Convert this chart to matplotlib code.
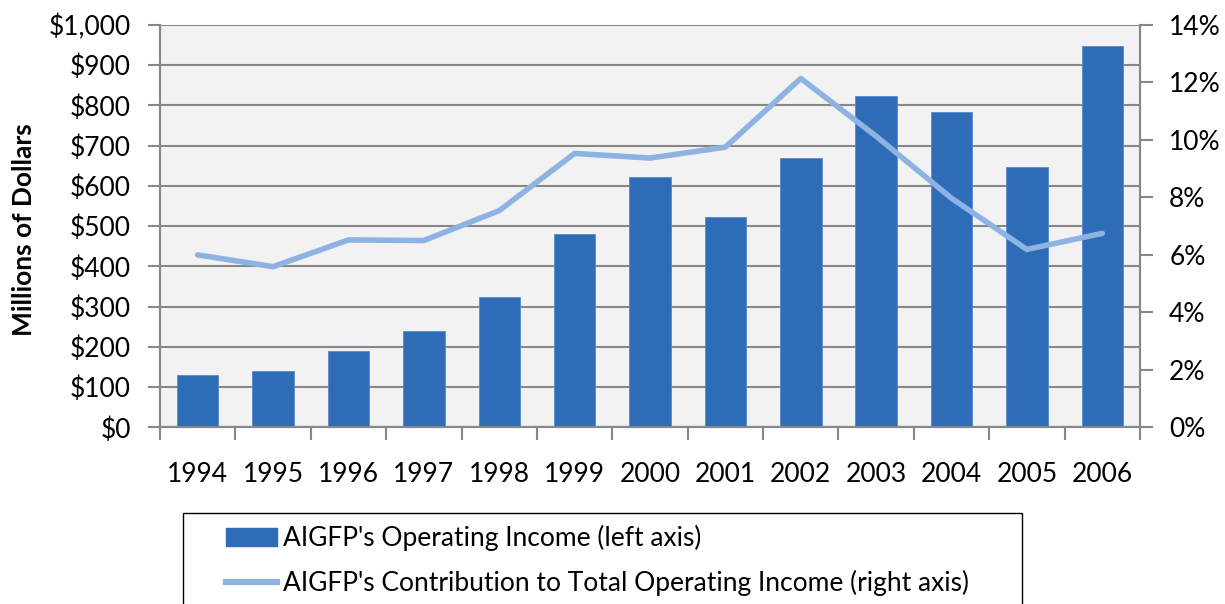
import matplotlib
matplotlib.use("Agg")
import matplotlib.pyplot as plt
from matplotlib.patches import Patch, Rectangle
from matplotlib.lines import Line2D
from matplotlib.ticker import FuncFormatter, MultipleLocator

years = ["1994", "1995", "1996", "1997", "1998", "1999", "2000",
         "2001", "2002", "2003", "2004", "2005", "2006"]
operating_income = [130, 140, 189, 240, 323, 481, 621, 522, 669, 824, 784, 647, 948]
contribution_pct = [6.0, 5.59, 6.52, 6.5, 7.54, 9.53, 9.37, 9.75, 12.14, 10.13, 7.97, 6.19, 6.75]
bar_label = "AIGFP's Operating Income (left axis)"
line_label = "AIGFP's Contribution to Total Operating Income (right axis)"

plt.rcParams['font.family'] = ['Lato', 'DejaVu Sans']

W, H = 1225, 604
FS = 19
fig = plt.figure(figsize=(W / 100, H / 100), dpi=100)
ax = fig.add_axes([160 / W, 1 - 427.3 / H, (1140 - 160) / W, (427.3 - 25) / H])
ax2 = ax.twinx()

grey = "#878787"
bar_color = "#2E6CB8"
line_color = "#8DB3E2"

x = list(range(len(years)))
ax.set_facecolor("#F2F2F2")
ax.bar(x, operating_income, width=0.55, color=bar_color, edgecolor="#5A8ACB", linewidth=0.6, zorder=3)
ax.set_xlim(-0.5, len(years) - 0.5)
ax.set_ylim(0, 1000)
ax.yaxis.set_major_locator(MultipleLocator(100))
ax.yaxis.set_major_formatter(FuncFormatter(lambda v, p: "${:,.0f}".format(v)))
ax.grid(axis="y", color=grey, linewidth=1.5, zorder=1)
ax.set_axisbelow(True)
ax.set_xticks(x)
ax.set_xticklabels(years)
ax.set_xticks([i - 0.5 for i in range(len(years) + 1)], minor=True)
ax.tick_params(axis="x", which="major", length=0, pad=25, labelsize=FS)
ax.tick_params(axis="x", which="minor", length=9, width=1.5, color=grey)
ax.tick_params(axis="y", length=9, width=1.5, color=grey, labelsize=FS, pad=12)
ax.set_ylabel("Millions of Dollars", fontsize=19, fontweight="bold")
ax.yaxis.set_label_coords(36 / W, 1 - 230 / H, transform=fig.transFigure)

ax2.plot(x, contribution_pct, color=line_color, linewidth=4.0, solid_capstyle="round", zorder=4)
ax2.set_ylim(0, 14)
ax2.yaxis.set_major_locator(MultipleLocator(2))
ax2.yaxis.set_major_formatter(FuncFormatter(lambda v, p: "{:.0f}%".format(v)))
ax2.tick_params(axis="y", length=9, width=1.5, color=grey, labelsize=FS, pad=12)

for a in (ax, ax2):
    a.spines["top"].set_visible(False)
    for s in ("left", "right", "bottom"):
        a.spines[s].set_color(grey)
        a.spines[s].set_linewidth(1.5)

# legend frame (extends past the bottom of the figure as in the reference)
fig.patches.append(Rectangle((183 / W, -0.05), (1022 - 183) / W, (1 - 513 / H) + 0.05,
                             transform=fig.transFigure, facecolor="white",
                             edgecolor="black", linewidth=1.0, zorder=0))
handles = [Patch(facecolor=bar_color, edgecolor=bar_color),
           Line2D([0], [0], color=line_color, linewidth=4.5)]
leg = fig.legend(handles, [bar_label, line_label], loc="upper left",
                 bbox_to_anchor=(226 / W, 1 - 525 / H), frameon=False,
                 fontsize=FS, handlelength=1.95, handletextpad=0.2,
                 borderpad=0, labelspacing=0.72, borderaxespad=0)

fig.savefig("out.png", dpi=100)
